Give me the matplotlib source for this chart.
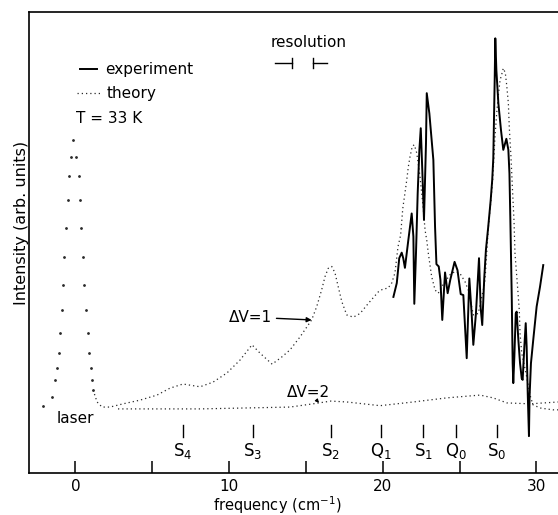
import matplotlib.pyplot as plt
import numpy as np

plt.rcParams['font.family'] = ['DejaVu Sans']
plt.rcParams['mathtext.default'] = 'regular'

#%% data (frequency in cm-1, intensity in arb. units)

# laser line of the theory curve, drawn as single dots
freq_laser = [-2.11, -1.52, -1.33, -1.20, -1.07, -1.00, -0.87, -0.81, -0.74, -0.61,
              -0.48, -0.42, -0.29, -0.16, 0.04, 0.20, 0.27, 0.36, 0.49, 0.56,
              0.69, 0.82, 0.88, 1.01, 1.08, 1.15]
int_laser = [14.5, 16.5, 20.2, 22.8, 26.0, 30.4, 35.4, 40.8, 46.9, 53.2,
             59.2, 64.4, 68.6, 72.2, 68.6, 64.4, 59.2, 53.2, 46.9, 40.8,
             35.4, 30.4, 26.0, 22.8, 20.2, 18.0]

# theory, Delta V = 1
freq_th1 = [1.15, 1.41, 1.73, 2.25, 3.10, 4.20, 5.31, 6.15, 7.00, 8.11,
            8.95, 9.86, 10.71, 11.49, 12.01, 12.80, 13.44, 13.96, 14.61, 15.37,
            15.70, 16.02, 16.24, 16.45, 16.68, 16.89, 17.10, 17.33, 17.65, 18.08,
            18.52, 19.06, 19.71, 20.01, 20.34, 20.58, 20.79, 20.99, 21.16, 21.30,
            21.44, 21.56, 21.66, 21.77, 21.92, 22.05, 22.21, 22.42, 22.53, 22.64,
            22.75, 22.86, 22.96, 23.07, 23.18, 23.40, 23.61, 23.83, 24.37, 24.70,
            25.02, 25.35, 25.56, 25.89, 26.21, 26.54, 26.65, 26.87, 27.02, 27.15,
            27.30, 27.41, 27.52, 27.63, 27.78, 27.84, 27.97, 28.06, 28.17, 28.23,
            28.34, 28.43, 28.54, 28.60, 28.75, 28.88, 28.93, 29.04, 29.36, 29.58,
            29.77, 30.23, 31.07, 31.40]
int_th1 = [18.0, 15.4, 14.3, 14.3, 15.0, 15.8, 16.9, 18.4, 19.3, 18.7,
           19.7, 21.7, 24.5, 27.8, 26.0, 23.6, 25.2, 26.7, 29.5, 33.2,
           36.1, 39.7, 42.6, 44.4, 44.8, 43.4, 40.4, 37.2, 34.3, 33.8,
           34.6, 36.8, 39.3, 39.9, 40.1, 41.2, 43.4, 49.1, 51.6, 57.4,
           60.7, 63.6, 66.4, 68.6, 70.9, 71.2, 69.4, 64.3, 60.7, 57.1,
           52.7, 50.5, 47.7, 45.1, 42.6, 39.7, 39.0, 40.4, 43.0, 43.7,
           43.3, 41.5, 39.7, 34.3, 34.6, 39.7, 41.9, 53.4, 58.6, 63.6,
           73.0, 78.0, 82.0, 85.2, 87.0, 87.8, 86.8, 84.2, 80.2, 75.0,
           68.6, 62.1, 54.5, 47.7, 41.2, 35.4, 30.3, 26.0, 20.9, 16.9,
           14.8, 14.1, 13.7, 13.7]

# theory, Delta V = 2
freq_th2 = [2.77, 8.11, 13.96, 15.46, 16.62, 17.67, 19.82, 21.97, 24.18, 26.33,
            27.17, 28.08, 29.58, 31.40]
int_th2 = [13.9, 13.9, 14.3, 15.0, 15.6, 15.4, 14.6, 15.4, 16.3, 16.9,
           16.3, 15.2, 15.0, 15.4]

# experiment
freq_exp = [20.69, 20.91, 21.07, 21.23, 21.33, 21.44, 21.66, 21.88, 21.99, 22.05,
            22.16, 22.27, 22.38, 22.47, 22.57, 22.68, 22.81, 22.86, 23.03, 23.29,
            23.40, 23.49, 23.64, 23.75, 23.87, 24.05, 24.22, 24.39, 24.67, 24.86,
            25.07, 25.24, 25.46, 25.63, 25.78, 25.89, 26.06, 26.26, 26.37, 26.47,
            26.60, 26.71, 26.86, 27.02, 27.12, 27.19, 27.23, 27.28, 27.32, 27.39,
            27.52, 27.69, 27.84, 28.04, 28.17, 28.24, 28.30, 28.39, 28.45, 28.49,
            28.56, 28.65, 28.71, 28.82, 28.93, 29.04, 29.10, 29.21, 29.30, 29.36,
            29.43, 29.51, 29.55, 29.64, 29.79, 30.01, 30.23, 30.44]
int_exp = [38.2, 41.2, 46.6, 47.8, 46.6, 44.5, 50.5, 56.3, 51.3, 36.7,
           47.7, 60.7, 70.1, 74.8, 65.7, 54.9, 71.5, 82.4, 78.0, 67.9,
           53.4, 45.3, 44.8, 41.9, 33.2, 43.5, 39.0, 41.9, 45.8, 44.0,
           38.8, 38.6, 24.9, 42.2, 34.6, 27.8, 34.6, 46.6, 35.7, 32.1,
           42.2, 48.4, 53.4, 59.2, 63.6, 68.3, 75.9, 85.2, 94.3, 87.4,
           80.2, 74.4, 70.1, 72.5, 70.1, 65.0, 54.9, 38.2, 23.8, 19.5,
           25.2, 34.6, 35.0, 28.9, 23.8, 20.5, 20.2, 27.4, 32.5, 27.4,
           17.3, 8.0, 16.6, 23.8, 28.9, 36.1, 40.4, 45.1]

# rotational / vibrational line positions
line_names = ['S$_4$', 'S$_3$', 'S$_2$', 'Q$_1$', 'S$_1$', 'Q$_0$', 'S$_0$']
line_pos = [6.99, 11.54, 16.62, 19.86, 22.63, 24.75, 27.42]

# resolution bar ends (cm-1)
res_left = 14.09
res_right = 15.46

dotted = (0, (1, 2.4))   # look of the theory curves
dotcol = '#2a2a2a'

#%% plotting

fig = plt.figure(figsize=(5.58, 5.15), dpi=100)
ax = fig.add_axes([0.052, 0.0816, 0.948, 0.895])

ax.plot(freq_laser, int_laser, ls='none', marker='o', ms=1.0, color=dotcol)
ax.plot(freq_th1, int_th1, color=dotcol, lw=0.9, ls=dotted)
ax.plot(freq_th2, int_th2, color=dotcol, lw=0.9, ls=dotted)
ax.plot(freq_exp, int_exp, color='k', lw=1.4)

# line markers with labels
for name, pos in zip(line_names, line_pos):
    ax.plot([pos, pos], [7.8, 10.4], color='k', lw=1.0)
    ax.text(pos, 6.9, name, ha='center', va='top', fontsize=12)

# annotations
ax.annotate('ΔV=1', xy=(15.37, 33.2), xytext=(12.81, 33.8), ha='right', va='center',
            fontsize=11, arrowprops=dict(arrowstyle='-|>', color='k', lw=1.0,
                                         mutation_scale=7, shrinkA=1, shrinkB=0))
ax.annotate('ΔV=2', xy=(15.85, 15.2), xytext=(15.14, 17.4), ha='center', va='center',
            fontsize=11, arrowprops=dict(arrowstyle='-|>', color='k', lw=0.8,
                                         mutation_scale=5, shrinkA=0, shrinkB=0,
                                         relpos=(0.7, 0.0)))
ax.text(0.0, 11.9, 'laser', ha='center', va='center', fontsize=11)

# resolution bracket
ax.text(15.2, 93.5, 'resolution', ha='center', va='center', fontsize=11)
ax.plot([res_left - 1.1, res_left], [88.9, 88.9], color='k', lw=1.0)
ax.plot([res_left, res_left], [87.8, 90.0], color='k', lw=1.0)
ax.plot([res_right, res_right + 0.9], [88.9, 88.9], color='k', lw=1.0)
ax.plot([res_right, res_right], [87.8, 90.0], color='k', lw=1.0)

# hand made legend
ax.plot([0.0964, 0.1285], [0.876, 0.876], color='k', lw=1.4, transform=ax.transAxes)
ax.text(0.1437, 0.876, 'experiment', va='center', fontsize=11, transform=ax.transAxes)
ax.plot([0.0907, 0.1342], [0.824, 0.824], color=dotcol, lw=0.9, ls=dotted,
        transform=ax.transAxes)
ax.text(0.1474, 0.824, 'theory', va='center', fontsize=11, transform=ax.transAxes)
ax.text(0.0888, 0.768, 'T = 33 K', va='center', fontsize=11, transform=ax.transAxes)

# axes
ax.set_xlim(-3.02, 31.4)
ax.set_ylim(0, 100)
ax.set_xticks([0, 10, 20, 30])
ax.set_xticks([5, 15, 25], minor=True)
ax.tick_params(axis='x', which='both', direction='in', length=9, width=1.1,
               labelsize=11, pad=4)
ax.set_yticks([])
ax.spines['right'].set_visible(False)
for s in ['left', 'bottom', 'top']:
    ax.spines[s].set_linewidth(1.2)

ax.set_xlabel('frequency (cm$^{-1}$)', fontsize=10.5)
ax.xaxis.set_label_coords(0.47, -0.047)
ax.text(-0.015, 0.542, 'Intensity (arb. units)', rotation=90, ha='center', va='center',
        fontsize=11.5, transform=ax.transAxes)

fig.savefig('out.png', dpi=100)
